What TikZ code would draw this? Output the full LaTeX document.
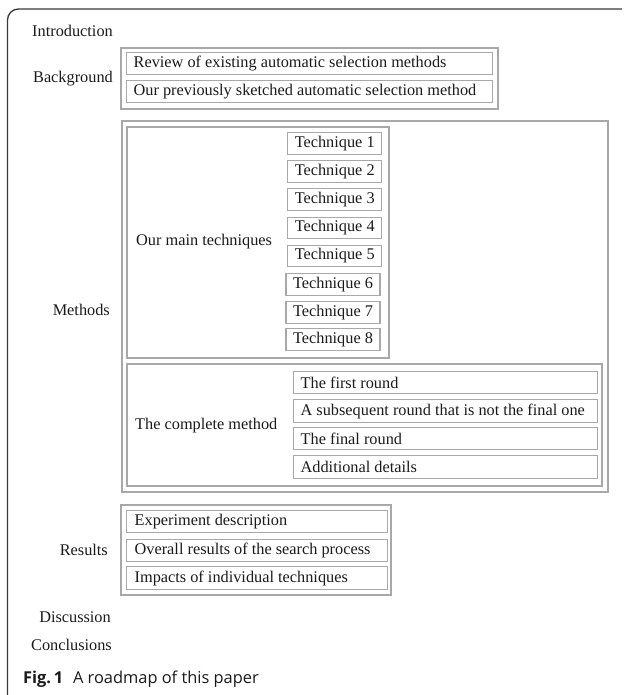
\documentclass[tikz,border=0pt]{standalone}
\usepackage{fontspec}
\setmainfont{Liberation Serif}
\newfontfamily\capfont{Open Sans}
\definecolor{boxgray}{HTML}{A8A8A8}
\definecolor{framecol}{HTML}{3A3A3A}
\definecolor{txt}{HTML}{1A1A1A}
\newcommand{\lfix}[2]{\makebox[#1][l]{#2}}
\begin{document}
\begin{tikzpicture}[x=1pt,y=-1pt,
  every node/.style={font=\fontsize{16.3}{18}\selectfont, text=txt},
  lab/.style={inner sep=0pt, anchor=mid east},
  sublab/.style={inner sep=0pt, anchor=mid west},
  frame/.style={draw=boxgray, line width=1.3pt, inner sep=0pt},
  box/.style={draw=boxgray, line width=1.3pt, inner ysep=0pt, minimum height=22.5pt},
  lbox/.style={box, anchor=west, inner xsep=7pt},
  tbox/.style={box, inner xsep=0pt, minimum width=94pt, minimum height=21.5pt}
]
\useasboundingbox (0,0) rectangle (624,695);
\draw[framecol, line width=1.3pt, rounded corners=11pt] (622,9) -- (7.5,9) -- (7.5,695);

% labels
\node[lab] (intro) at (113,34) {Introduction};
\node[lab] (bg) at (113,80) {Background};
\node[lab] (meth) at (110,313) {Methods};
\node[lab] (res) at (108,553) {Results};
\node[lab] (disc) at (111,620) {Discussion};
\node[lab] (conc) at (112,648) {Conclusions};

% Background
\node[frame, minimum width=377pt, minimum height=61pt] (bgbox) at (309.5,78.5) {};
\node[lbox] (bg1) at (126,63.5) {\lfix{352pt}{Review of existing automatic selection methods}};
\node[lbox] (bg2) at (126,91.5) {\lfix{352pt}{Our previously sketched automatic selection method}};

% Methods
\node[frame, minimum width=486pt, minimum height=371pt] (methbox) at (365,306.5) {};
\node[frame, minimum width=262pt, minimum height=231pt] (techbox) at (258,242.5) {};
\node[sublab] (techlab) at (136,243) {Our main techniques};
\node[tbox] (t1) at (334.7,143.5) {Technique 1};
\node[tbox] (t2) at (334.7,171.5) {Technique 2};
\node[tbox] (t3) at (334.7,199.5) {Technique 3};
\node[tbox] (t4) at (334.7,228) {Technique 4};
\node[tbox] (t5) at (334.7,256) {Technique 5};
\node[tbox] (t6) at (333,284.5) {Technique 6};
\node[tbox] (t7) at (333,312.5) {Technique 7};
\node[tbox] (t8) at (333,339.5) {Technique 8};

\node[frame, minimum width=475pt, minimum height=122pt] (cmbox) at (364.5,425) {};
\node[sublab] (cmlab) at (135,427) {The complete method};
\node[lbox] (r1) at (293,382.5) {\lfix{290pt}{The first round}};
\node[lbox] (r2) at (293,411) {\lfix{290pt}{A subsequent round that is not the final one}};
\node[lbox] (r3) at (293,438.5) {\lfix{290pt}{The final round}};
\node[lbox] (r4) at (293,467) {\lfix{290pt}{Additional details}};

% Results
\node[frame, minimum width=270pt, minimum height=90pt] (resbox) at (256,550) {};
\node[lbox, inner xsep=8pt] (e1) at (126,521.5) {\lfix{245pt}{Experiment description}};
\node[lbox, inner xsep=8pt] (e2) at (126,550.5) {\lfix{245pt}{Overall results of the search process}};
\node[lbox, inner xsep=8pt] (e3) at (126,578) {\lfix{245pt}{Impacts of individual techniques}};

% caption
\node[anchor=base west, inner sep=0pt, font=\capfont\fontsize{16.4}{20}\selectfont, text=txt] (cap) at (23,683) {\textbf{Fig.\,1}\hspace{0.6em}A roadmap of this paper};
\end{tikzpicture}
\end{document}
